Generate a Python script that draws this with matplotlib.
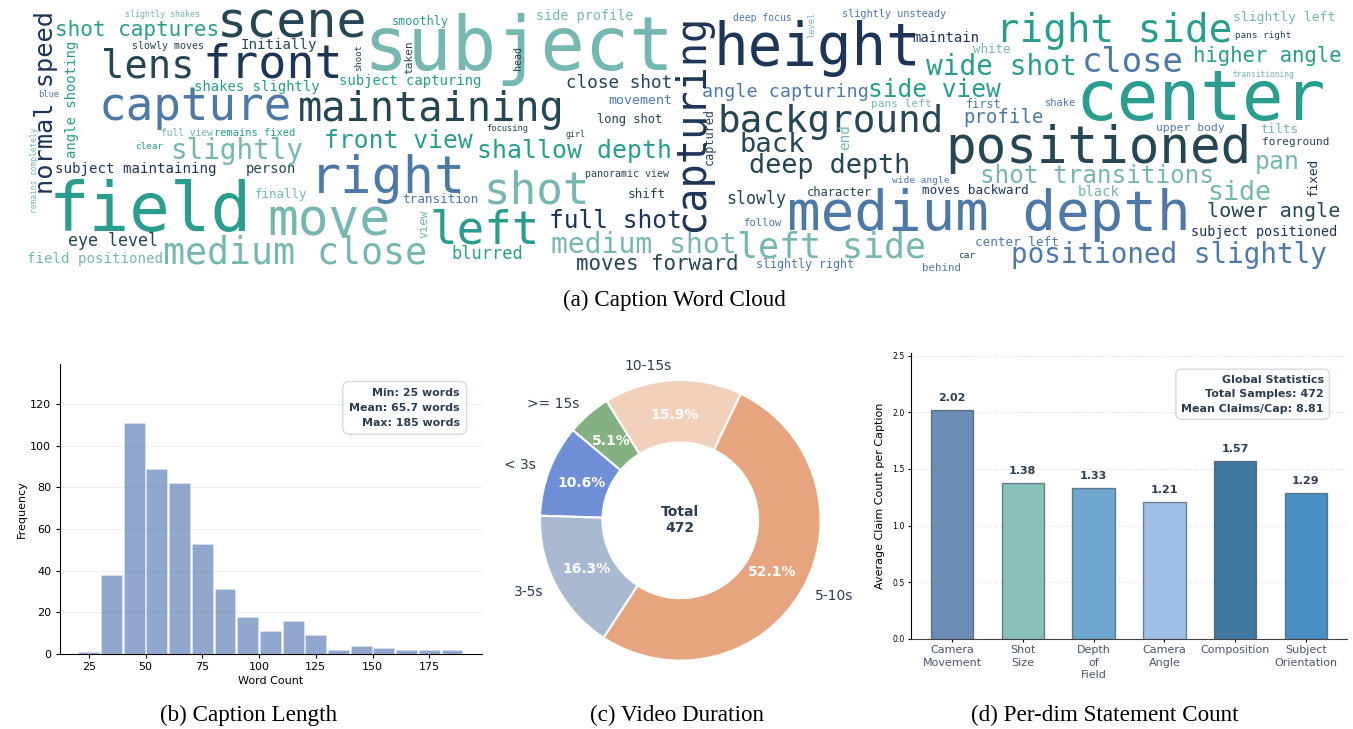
import matplotlib
matplotlib.use('Agg')
import matplotlib.pyplot as plt

W, H = 1353, 729
DARK = '#2c3e50'

# word cloud
N, D, T, B, L = '#1d3557', '#264653', '#2a9d8f', '#4e79a7', '#76b7b2'

cloud_words = ['slightly shakes', 'scene', 'shot captures', 'slowly moves', 'Initially', 'lens', 'front',
               'smoothly', 'subject', 'subject capturing', 'shakes slightly', 'blue', 'capture', 'maintaining',
               'full view', 'remains fixed', 'clear', 'front view', 'slightly', 'subject maintaining', 'person',
               'right', 'field', 'finally', 'transition', 'move', 'left', 'eye level', 'medium close',
               'field positioned', 'side profile', 'height', 'deep focus', 'slightly unsteady', 'close shot',
               'angle capturing', 'side view', 'movement', 'pans left', 'long shot', 'background', 'focusing',
               'girl', 'back', 'shallow depth', 'deep depth', 'panoramic view', 'shot', 'shift', 'slowly',
               'character', 'wide angle', 'medium depth', 'full shot', 'follow', 'medium shot', 'left side',
               'blurred', 'moves forward', 'slightly right', 'right side', 'slightly left', 'maintain',
               'pans right', 'white', 'wide shot', 'close', 'higher angle', 'transitioning', 'center', 'first',
               'shake', 'profile', 'upper body', 'tilts', 'foreground', 'positioned', 'pan', 'shot transitions',
               'moves backward', 'black', 'side', 'lower angle', 'subject positioned', 'center left',
               'positioned slightly', 'car', 'behind']
# x0, x1, baseline, colour
cloud_layout = [(126, 201, 17, L), (220, 365, 37, D), (56, 218, 36, T), (133, 204, 49, D), (241, 316, 49, D),
                (103, 192, 77, D), (205, 340, 77, N), (392, 447, 25, T), (368, 670, 70, L), (340, 482, 85, T),
                (195, 320, 91, T), (39, 59, 97, B), (101, 289, 120, B), (300, 563, 121, D), (162, 213, 136, L),
                (215, 295, 136, T), (136, 163, 149, T), (325, 470, 148, T), (172, 302, 159, L), (56, 216, 173, N),
                (247, 296, 173, D), (313, 463, 193, B), (53, 248, 231, T), (256, 307, 198, L), (403, 478, 203, B),
                (270, 387, 235, L), (432, 537, 243, T), (69, 157, 246, D), (165, 425, 263, L), (28, 162, 263, L),
                (537, 633, 20, L), (717, 918, 65, N), (734, 792, 21, B), (843, 947, 17, B), (567, 671, 88, D),
                (703, 867, 97, B), (869, 999, 97, T), (609, 671, 104, B), (872, 931, 107, L), (598, 662, 123, D),
                (720, 942, 132, D), (487, 528, 131, D), (566, 585, 137, D), (741, 803, 152, D), (478, 670, 158, T),
                (751, 910, 173, D), (586, 669, 177, D), (486, 587, 203, L), (628, 665, 198, D), (727, 785, 204, D),
                (808, 872, 196, D), (893, 949, 183, B), (790, 1187, 230, B), (550, 680, 228, N), (744, 781, 226, B),
                (553, 735, 253, L), (739, 924, 257, L), (452, 522, 259, T), (577, 737, 270, D), (757, 854, 268, B),
                (998, 1230, 42, T), (1234, 1335, 21, L), (913, 978, 42, N), (1236, 1291, 38, D), (974, 1010, 53, L),
                (928, 1075, 75, T), (1084, 1182, 72, B), (1194, 1341, 62, T), (1233, 1294, 77, L), (1080, 1322, 120, T),
                (967, 1001, 108, B), (1046, 1076, 106, B), (964, 1042, 123, B), (1157, 1224, 131, B), (1261, 1298, 133, L),
                (1263, 1329, 145, D), (948, 1248, 163, D), (1256, 1298, 169, L), (981, 1212, 183, L), (923, 1028, 194, N),
                (1079, 1119, 196, L), (1209, 1270, 200, L), (1208, 1339, 217, D), (1192, 1337, 236, N), (976, 1058, 246, B),
                (1013, 1326, 263, B), (959, 975, 258, D), (923, 961, 271, B)]

vert_words = ['normal speed', 'angle shooting', 'taken', 'shoot', 'remains completely', 'view', 'capturing',
              'level', 'head', 'captured', 'end', 'fixed']
# baseline x, y top, y bottom, colour
vert_layout = [(53, 12, 192, N), (76, 42, 157, T), (412, 41, 73, D), (361, 44, 70, D), (37, 128, 213, L),
               (427, 210, 237, L), (703, 17, 230, N), (814, 12, 37, L), (521, 46, 69, D), (713, 109, 164, D),
               (849, 125, 149, L), (1317, 158, 195, N)]

# histogram
bin_edges = [20, 30, 40, 50, 60, 70, 80, 90, 100, 110, 120, 130, 140, 150, 160, 170, 180, 190]
bin_counts = [1, 38, 111, 89, 82, 53, 31, 18, 11, 16, 9, 2, 4, 3, 2, 2, 2]
hist_stats = 'Min: 25 words\nMean: 65.7 words\nMax: 185 words'

# donut
dur_labels = ['< 3s', '3-5s', '5-10s', '10-15s', '>= 15s']
dur_counts = [50, 77, 246, 75, 24]
dur_colors = ['#6f8fd6', '#a8b9d1', '#e6a57e', '#f2d1bc', '#85b082']

# bars
dims = ['Camera\nMovement', 'Shot\nSize', 'Depth\nof\nField', 'Camera\nAngle', 'Composition', 'Subject\nOrientation']
claims = [2.02, 1.38, 1.33, 1.21, 1.57, 1.29]
dim_colors = ['#6b8cb4', '#8ac2ba', '#70a7cf', '#9ec0e6', '#41789f', '#4891c2']
global_stats = 'Global Statistics\nTotal Samples: 472\nMean Claims/Cap: 8.81'


def axes_px(x0, y0, x1, y1):
    # pixel box, y from the top
    return fig.add_axes([x0 / W, 1 - y1 / H, (x1 - x0) / W, (y1 - y0) / H])


def word_px(word, ink):
    # em size in px from the inked length, mono font has about 0.06 em bearing each side
    return ink / (len(word) * 0.602 - 0.12)


fig = plt.figure(figsize=(W / 100, H / 100), dpi=100)

cloud = fig.add_axes([0, 0, 1, 1])
cloud.set_xlim(0, W)
cloud.set_ylim(H, 0)
cloud.axis('off')
for word, (x0, x1, base, col) in zip(cloud_words, cloud_layout):
    em = word_px(word, x1 - x0)
    cloud.text(x0 - 0.06 * em, base, word, family='DejaVu Sans Mono', fontsize=em * 0.72, color=col,
               ha='left', va='baseline')
for word, (bx, y0, y1, col) in zip(vert_words, vert_layout):
    em = word_px(word, y1 - y0)
    cloud.text(bx, y1 + 0.06 * em, word, family='DejaVu Sans Mono', fontsize=em * 0.72, color=col, rotation=90,
               ha='left', va='baseline', rotation_mode='anchor')

captions = ['(a) Caption Word Cloud', '(b) Caption Length', '(c) Video Duration', '(d) Per-dim Statement Count']
cap_pos = [(674.5, 300), (248.5, 715.5), (676.5, 715.5), (1105, 715.5)]
for c, (cx, cy) in zip(captions, cap_pos):
    cloud.text(cx, cy, c, family='Liberation Serif', fontsize=16.7, color='black', ha='center', va='center')

# (b)
ax = axes_px(59.5, 364, 482, 654)
ax.hist(bin_edges[:-1], bins=bin_edges, weights=bin_counts, rwidth=0.92, color='#4c72b0', alpha=0.62,
        edgecolor='#dfe6f0', linewidth=0.6, zorder=3)
ax.set_xlim(12.1, 198.2)
ax.set_ylim(0, 139.2)
ax.set_yticks(range(0, 121, 20))
ax.set_xticks(range(25, 176, 25))
ax.tick_params(labelsize=8, length=3, width=0.8, pad=3)
ax.grid(axis='y', color='#e8e8e8', linewidth=0.8, alpha=0.7, zorder=0)
ax.set_xlabel('Word Count', fontsize=8, labelpad=3)
ax.set_ylabel('Frequency', fontsize=8, labelpad=2)
ax.spines[['top', 'right']].set_visible(False)
ax.text(0.948, 0.917, hist_stats, transform=ax.transAxes, ha='right', va='top', fontsize=7.9, fontweight='bold',
        color=DARK, linespacing=1.6, zorder=5,
        bbox=dict(boxstyle='round,pad=0.6', facecolor='white', edgecolor='#cfd6de', alpha=0.9))

# (c)
R = 140.3
half = 175
ax = axes_px(680.3 - half, 520.3 - half, 680.3 + half, 520.3 + half)
wedges, texts, autotexts = ax.pie(dur_counts, labels=dur_labels, colors=dur_colors, startangle=140, autopct='%.1f%%',
                                  pctdistance=0.75, labeldistance=1.1,
                                  wedgeprops=dict(width=0.445, edgecolor='white', linewidth=1.5))
for t in texts:
    t.set_fontsize(10)
    t.set_color(DARK)
for t in autotexts:
    t.set_fontsize(10)
    t.set_color('white')
    t.set_fontweight('bold')
ax.set_xlim(-half / R, half / R)
ax.set_ylim(-half / R, half / R)
ax.text(0, 0, 'Total\n472', ha='center', va='center', fontsize=10, fontweight='bold', color=DARK)

# (d)
ax = axes_px(911, 352.7, 1347, 639)
bars = ax.bar(range(len(dims)), claims, width=0.6, color=dim_colors, edgecolor=(0.17, 0.24, 0.31, 0.6), linewidth=1,
              zorder=3)
ax.set_xlim(-0.58, 5.58)
ax.set_ylim(0, 2.525)
ax.set_yticks([0, 0.5, 1, 1.5, 2, 2.5])
ax.set_yticklabels(['0.0', '0.5', '1.0', '1.5', '2.0', '2.5'], fontsize=5.6)
ax.set_xticks(range(len(dims)))
ax.set_xticklabels(dims, fontsize=8, color='#4a5568', linespacing=1.3)
ax.tick_params(axis='both', length=2.5, width=0.8, pad=2)
ax.grid(axis='y', color='#e4e4e4', linewidth=0.8, linestyle='--', alpha=0.7, zorder=0)
ax.set_ylabel('Average Claim Count per Caption', fontsize=8, labelpad=5)
ax.spines[['top', 'right']].set_visible(False)
ax.spines['bottom'].set_color('#444444')
for b, v in zip(bars, claims):
    ax.text(b.get_x() + b.get_width() / 2, v + 0.06, f'{v:.2f}', ha='center', va='bottom', fontsize=8,
            fontweight='bold', color=DARK)
ax.text(0.947, 0.923, global_stats, transform=ax.transAxes, ha='right', va='top', fontsize=8, fontweight='bold',
        color=DARK, linespacing=1.56, zorder=5,
        bbox=dict(boxstyle='round,pad=0.5', facecolor='white', edgecolor='#cfd6de', alpha=0.9))

fig.savefig('out.png', dpi=100)
